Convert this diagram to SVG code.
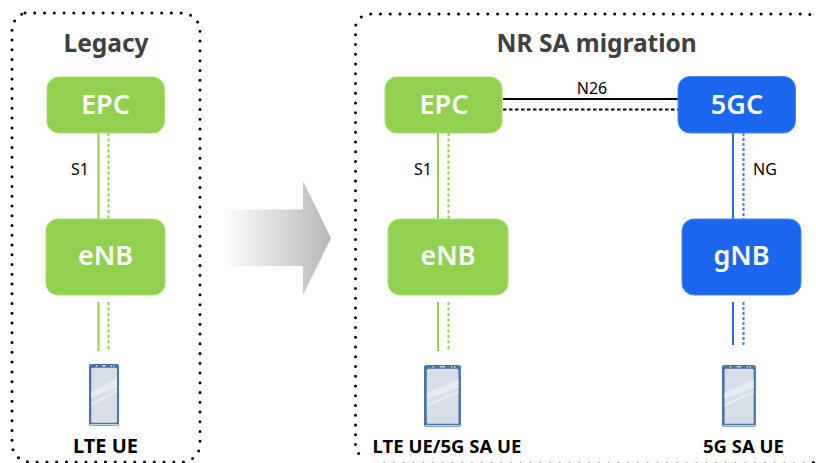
<svg xmlns="http://www.w3.org/2000/svg" width="816" height="463" viewBox="0 0 816 463">
<style>
text{font-family:"Noto Sans","Open Sans","Liberation Sans",sans-serif;text-anchor:middle}
.frame{fill:none;stroke:#000;stroke-width:3;stroke-linecap:round;stroke-dasharray:0 9.76}
.title{font-size:24.500px;font-weight:700;fill:#404040}
.nt{font-size:27px;font-weight:600;fill:#fff}
.lab{font-size:16px;fill:#000}
.ue{font-size:18.500px;font-weight:700;fill:#000}
.g{fill:#92d050;stroke:#a9dc72;stroke-width:1}
.b{fill:#1a66ee;stroke:#4d88f0;stroke-width:1}
.gs{stroke:#92d050;stroke-width:2;fill:none}
.gd{stroke:#92d050;stroke-width:2;fill:none;stroke-dasharray:3 2.500}
.bs{stroke:#1f6bf0;stroke-width:2;fill:none}
.bd{stroke:#3f7ff0;stroke-width:2;fill:none;stroke-dasharray:3 2}
.ks{stroke:#000;stroke-width:2;fill:none}
.kd{stroke:#000;stroke-width:2;fill:none;stroke-dasharray:3.500 2.500}
.body{fill:#4a74a6}
.scr{fill:#d6dfe8}
.gl{fill:#e6ecf2}
.mk{fill:#c4d2e2}
</style>
<defs>
<linearGradient id="ag" gradientUnits="userSpaceOnUse" x1="222" y1="0" x2="331" y2="0">
<stop offset="0" stop-color="#fff"/><stop offset="1" stop-color="#b8b8b8"/>
</linearGradient>
<g id="phone">
<rect class="body" x="0" y="0" width="30" height="62" rx="2"/>
<rect class="scr" x="2.300" y="3.700" width="25.700" height="55" rx="1.500"/>
<path class="gl" d="M2.300 28L28 14V23L2.300 33.700ZM2.300 39L28 26V28L2.300 41.500Z"/>
<rect class="mk" x="7" y="1" width="1" height="2"/>
<rect class="mk" x="13" y="1" width="4" height="1.500"/>
<rect class="mk" x="22" y="1" width="1" height="2"/>
<rect class="mk" x="24.500" y="1" width="1" height="2"/>
<rect class="mk" x="1" y="60" width="28" height="1.500"/>
</g>
</defs>
<g id="connectors">
<path class="gs" d="M98.500 133V219M98.500 302V351M438 133V219M438 302V351"/>
<path class="gd" d="M108.500 133V219M108.500 302V351M448.500 133V219M448.500 302V351"/>
<path class="bs" d="M733 133V219M733 302V345"/>
<path class="bd" d="M743.500 133V219M743.500 302V345"/>
<path class="ks" d="M503 99H679"/>
<path class="kd" d="M503 109.500H678"/>
</g>
<g id="legacy-frame"><path class="frame" d="M25 13H182A18 18 0 0 1 200 31V444A18 18 0 0 1 182 462H30A18 18 0 0 1 12 444V31A18 18 0 0 1 25 13"/><text class="title" x="106" y="52">Legacy</text></g>
<g id="migration-frame"><path class="frame" d="M370.700 14H806A18 18 0 0 1 824 32V446A18 18 0 0 1 806 464H375"/><path class="frame" d="M361.300 17Q356.500 21 355.500 26V446Q356.500 452 364.300 461"/><text class="title" x="596.700" y="52">NR SA migration</text></g>
<g id="migrate-arrow"><path fill="url(#ag)" d="M222 209.500H303V181L331 238L303 295V266H222Z"/></g>
<g id="epc-left"><rect class="g" x="47" y="77" width="117.500" height="56" rx="12"/><text class="nt" x="105.500" y="114">EPC</text></g>
<g id="enb-left"><rect class="g" x="46" y="219" width="119" height="76" rx="12"/><text class="nt" x="105.500" y="265">eNB</text></g>
<g id="epc-right"><rect class="g" x="385" y="77" width="117" height="56" rx="12"/><text class="nt" x="444" y="114">EPC</text></g>
<g id="enb-right"><rect class="g" x="388" y="219" width="120" height="76" rx="12"/><text class="nt" x="448" y="265">eNB</text></g>
<g id="fivegc"><rect class="b" x="678" y="76.500" width="117.500" height="56.500" rx="12"/><text class="nt" x="737" y="114">5GC</text></g>
<g id="gnb"><rect class="b" x="682" y="219" width="119" height="76" rx="12"/><text class="nt" x="741.500" y="265">gNB</text></g>
<g id="labels">
<text class="lab" x="80" y="175">S1</text>
<text class="lab" x="423" y="175">S1</text>
<text class="lab" x="765" y="175">NG</text>
<text class="lab" x="592" y="94">N26</text>
</g>
<g id="ue-left"><use href="#phone" x="89" y="364"/><text class="ue" style="font-size:20px" x="105.500" y="453">LTE UE</text></g>
<g id="ue-middle"><use href="#phone" transform="translate(424 365) scale(1.230 1)"/><text class="ue" x="447" y="453">LTE UE/5G SA UE</text></g>
<g id="ue-right"><use href="#phone" transform="translate(722 365) scale(1.130 1)"/><text class="ue" x="743.500" y="453">5G SA UE</text></g>
</svg>
